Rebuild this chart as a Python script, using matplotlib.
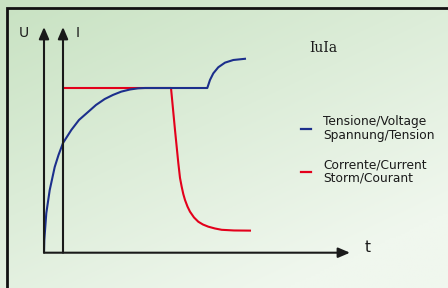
import matplotlib.pyplot as plt
import numpy as np
from matplotlib.patches import Rectangle

W, H = 448, 288

# charge curve (t in arbitrary time units, value relative to plateau)
u_t = [0, 0.015, 0.115, 0.285, 0.535, 0.725, 0.95, 1.365, 1.75, 2.2, 2.6, 3.035, 3.45, 3.865,
       4.3, 4.7, 5.05, 8.165, 8.3, 8.465, 8.715, 9.05, 9.465, 10.1]
u_v = [0, 0.077, 0.24, 0.38, 0.52, 0.593, 0.666, 0.745, 0.806, 0.854, 0.897, 0.933, 0.958, 0.978,
       0.991, 0.998, 1.0, 1.0, 1.049, 1.089, 1.126, 1.154, 1.17, 1.178]

i_t = [0.95, 6.35, 6.55, 6.715, 6.8, 6.885, 6.965, 7.05, 7.175, 7.3, 7.5, 7.715, 7.95, 8.215,
       8.55, 8.885, 9.5, 10.35]
i_v = [1.0, 1.0, 0.745, 0.545, 0.454, 0.40, 0.356, 0.32, 0.28, 0.249, 0.214, 0.188, 0.171, 0.158,
       0.147, 0.139, 0.135, 0.134]

legend_labels = [["Tensione/Voltage", "Spannung/Tension"], ["Corrente/Current", "Storm/Courant"]]
blue = "#1c2f8c"
red = "#e3001b"

fig = plt.figure(figsize=(W / 100, H / 100), dpi=100)

# background gradient
bg = fig.add_axes([0, 0, 1, 1])
gx, gy = np.meshgrid(np.linspace(0, 1, 200), np.linspace(0, 1, 130))
g = np.clip((gx * 0.55 + gy * 0.75) / 1.1, 0, 1)
c0 = np.array([200, 226, 194]) / 255
c1 = np.array([240, 247, 238]) / 255
img = c0[None, None, :] * (1 - g[..., None]) + c1[None, None, :] * g[..., None]
bg.imshow(img, aspect="auto", extent=[0, 1, 1, 0])
bg.set_xlim(0, 1)
bg.set_ylim(1, 0)
bg.axis("off")

# frame
fig.add_artist(Rectangle((7 / W, -0.1), 1.2, 1 - 8 / H + 0.1, transform=fig.transFigure,
                         fill=False, ec="#111111", lw=2.0))

# plot axes: t=0 at x=44px, v=0 at y=252.7px
x0, y0 = 44, 252.7
px_t = 20.0
px_v = 164.7
xmax = (350 - x0) / px_t
ymax = (y0 - 27) / px_v
ax = fig.add_axes([x0 / W, 1 - y0 / H, (350 - x0) / W, (y0 - 27) / H])
ax.set_xlim(0, xmax)
ax.set_ylim(0, ymax)
ax.axis("off")
ax.patch.set_alpha(0)

ax.plot(u_t, u_v, color=blue, lw=1.5, solid_capstyle="butt", solid_joinstyle="round", zorder=3)
ax.plot(i_t, i_v, color=red, lw=1.5, solid_capstyle="butt", solid_joinstyle="round", zorder=2)

arrow = dict(arrowstyle="-|>,head_length=0.7,head_width=0.3", color="#1a1a1a", lw=1.5,
             shrinkA=0, shrinkB=0)
ax.annotate("", xy=(0, ymax), xytext=(0, 0), arrowprops=arrow, annotation_clip=False)
ax.annotate("", xy=(i_t[0], ymax), xytext=(i_t[0], 0), arrowprops=arrow, annotation_clip=False)
ax.annotate("", xy=(xmax, 0), xytext=(0, 0), arrowprops=arrow, annotation_clip=False)


def ftext(x, y, s, **kw):
    fig.text(x / W, 1 - y / H, s, **kw)


ftext(24, 33, "U", fontsize=10, ha="center", va="center", color="#1a1a1a")
ftext(78, 33, "I", fontsize=10, ha="center", va="center", color="#1a1a1a")
ftext(368, 248, "t", fontsize=11, ha="center", va="center", color="#1a1a1a")
ftext(323, 48, "IuIa", fontsize=10, ha="center", va="center", family="DejaVu Serif",
      color="#1a1a1a")

# legend
for yy, col, lab in [(128.5, blue, legend_labels[0]), (171.5, red, legend_labels[1])]:
    fig.add_artist(plt.Line2D([301 / W, 311 / W], [1 - yy / H] * 2, color=col, lw=1.6))
    ftext(323, yy - 7, lab[0], fontsize=8.8, ha="left", va="center", color="#1a1a1a")
    ftext(323, yy + 6.5, lab[1], fontsize=8.8, ha="left", va="center", color="#1a1a1a")

fig.savefig("out.png", dpi=100)
